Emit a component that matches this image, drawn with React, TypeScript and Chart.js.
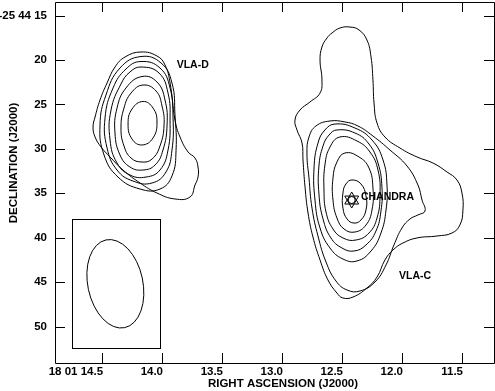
import React, { useEffect, useRef } from 'react';
import { Chart, registerables } from 'chart.js';

Chart.register(...registerables);

// ---- axes (RA seconds of 18h01m, Dec arcsec of -25d44m) ----
const X_RANGE = [11.233, 14.892];
const Y_RANGE = [13.46, 54.11];
const X_TICKS = [14.5, 14.0, 13.5, 13.0, 12.5, 12.0, 11.5];
const X_TICK_LABELS = ['18 01 14.5', '14.0', '13.5', '13.0', '12.5', '12.0', '11.5'];
const Y_TICKS = [15, 20, 25, 30, 35, 40, 45, 50];
const Y_TICK_LABELS = ['-25 44 15', '20', '25', '30', '35', '40', '45', '50'];
const X_TITLE = 'RIGHT ASCENSION (J2000)';
const Y_TITLE = 'DECLINATION (J2000)';

// ---- contours [RA s, Dec arcsec] ----
const VLA_D_1 = [[14.175,19.09],[14.042,19.54],[13.975,20.55],[13.933,22.58],[13.892,26.75],[13.85,28.66],[13.783,30.35],[13.725,31.03],[13.70,32.04],[13.70,33.17],[13.725,34.07],[13.767,35.42],[13.892,35.64],[14.042,34.97],[14.183,33.84],[14.325,32.38],[14.433,30.91],[14.508,29.79],[14.558,28.66],[14.575,27.54],[14.558,26.41],[14.517,24.50],[14.458,22.58],[14.392,20.78],[14.308,19.65]];
const VLA_D_2 = [[14.175,19.60],[14.008,20.33],[13.917,22.58],[13.892,26.18],[13.883,30.13],[13.917,33.05],[14.017,34.52],[14.183,34.52],[14.367,33.17],[14.483,30.69],[14.517,27.31],[14.467,23.93],[14.35,20.89]];
const VLA_D_3 = [[14.175,20.16],[14.017,20.89],[13.933,23.14],[13.908,26.52],[13.917,30.13],[13.967,32.60],[14.083,33.84],[14.242,33.62],[14.375,32.38],[14.458,29.90],[14.475,26.52],[14.408,23.14],[14.30,21.00]];
const VLA_D_4 = [[14.175,20.78],[14.025,21.46],[13.95,23.71],[13.933,26.75],[13.95,30.13],[14.017,32.38],[14.133,33.17],[14.267,32.94],[14.375,31.59],[14.433,29.00],[14.425,25.62],[14.342,22.69],[14.267,21.34]];
const VLA_D_5 = [[14.167,21.85],[14.042,22.47],[13.975,24.50],[13.958,27.31],[13.992,30.13],[14.058,31.81],[14.158,32.38],[14.267,32.04],[14.35,30.69],[14.392,28.21],[14.375,25.40],[14.30,23.14]];
const VLA_D_6 = [[14.158,22.81],[14.05,23.48],[14.00,25.17],[13.983,27.31],[14.017,29.67],[14.083,31.14],[14.167,31.48],[14.258,31.03],[14.317,29.67],[14.342,27.65],[14.317,25.40],[14.258,23.71]];
const VLA_D_7 = [[14.158,24.66],[14.075,25.40],[14.042,26.97],[14.075,28.77],[14.167,29.56],[14.25,28.89],[14.283,27.20],[14.25,25.51]];

const VLA_C_1 = [[12.433,16.28],[12.358,16.61],[12.292,17.74],[12.258,19.65],[12.242,22.24],[12.233,24.83],[12.208,27.09],[12.142,28.66],[12.017,29.90],[11.875,30.91],[11.742,31.59],[11.625,32.60],[11.542,33.50],[11.50,34.97],[11.492,36.88],[11.517,38.57],[11.583,39.47],[11.708,39.81],[11.875,40.03],[11.992,40.60],[12.075,41.39],[12.142,42.51],[12.208,44.43],[12.292,45.66],[12.408,46.68],[12.492,46.79],[12.542,46.23],[12.617,44.76],[12.683,42.51],[12.742,39.92],[12.783,37.22],[12.808,34.29],[12.825,31.25],[12.833,29.34],[12.875,27.87],[12.892,26.75],[12.85,25.62],[12.767,24.72],[12.683,23.71],[12.667,22.24],[12.683,19.99],[12.667,18.53],[12.625,17.51],[12.583,16.95],[12.517,16.39]];
const VLA_C_2 = [[12.60,26.86],[12.475,26.97],[12.367,27.42],[12.242,28.55],[12.10,30.13],[11.958,31.93],[11.867,34.07],[11.833,35.76],[11.808,36.99],[11.867,37.44],[11.933,37.89],[12.00,38.91],[12.067,40.82],[12.133,43.07],[12.225,44.99],[12.35,46.00],[12.458,45.89],[12.55,44.88],[12.633,42.74],[12.70,39.81],[12.75,36.66],[12.775,33.28],[12.792,30.46],[12.775,28.66],[12.717,27.42]];
const VLA_C_3 = [[12.558,27.20],[12.392,27.65],[12.25,29.00],[12.158,31.25],[12.125,34.07],[12.133,36.88],[12.175,39.47],[12.258,41.50],[12.375,42.62],[12.492,42.40],[12.60,41.16],[12.683,38.91],[12.725,35.76],[12.733,32.15],[12.70,29.34],[12.642,27.87]];
const VLA_C_4 = [[12.542,27.87],[12.392,28.21],[12.275,29.45],[12.20,31.59],[12.167,34.29],[12.175,36.99],[12.217,39.25],[12.30,40.82],[12.40,41.50],[12.50,41.16],[12.592,40.03],[12.658,37.89],[12.692,35.08],[12.692,31.93],[12.658,29.67],[12.608,28.44]];
const VLA_C_5 = [[12.517,28.66],[12.375,29.11],[12.267,30.35],[12.20,32.38],[12.183,35.19],[12.208,37.78],[12.275,39.47],[12.383,40.26],[12.492,40.03],[12.575,39.02],[12.633,37.11],[12.65,34.63],[12.642,31.81],[12.60,29.79]];
const VLA_C_6 = [[12.475,30.46],[12.358,30.91],[12.275,32.15],[12.242,34.40],[12.25,36.88],[12.30,38.57],[12.392,39.36],[12.483,39.02],[12.542,37.78],[12.575,35.76],[12.575,33.28],[12.542,31.48]];
const VLA_C_7 = [[12.417,33.50],[12.342,33.95],[12.30,35.30],[12.30,36.88],[12.342,38.01],[12.40,38.35],[12.458,37.89],[12.492,36.66],[12.492,34.97],[12.467,33.95]];

const CONTOURS = [VLA_D_1, VLA_D_2, VLA_D_3, VLA_D_4, VLA_D_5, VLA_D_6, VLA_D_7,
  VLA_C_1, VLA_C_2, VLA_C_3, VLA_C_4, VLA_C_5, VLA_C_6, VLA_C_7];

// ---- Chandra source ----
const CHANDRA_POS = [12.419, 35.76];

// ---- labels ----
const LABEL_TEXTS = ['VLA-D', 'CHANDRA', 'VLA-C'];
const LABEL_RA = [13.878, 12.342, 12.025];
const LABEL_DEC = [20.55, 35.47, 44.31];

// ---- beam inset ----
const INSET_RA = [14.753, 14.017];
const INSET_DEC = [37.93, 52.45];
const BEAM_CENTER = [14.389, 45.19];
const BEAM_MAJOR = 10.1; // arcsec (full)
const BEAM_MINOR = 6.2;  // arcsec (full)
const BEAM_PA = 12;      // deg east of north

const FONT = '"Liberation Sans", Arial, Helvetica, sans-serif';

function closedSet(pts: number[][]) {
  const n = pts.length;
  const seq = [pts[n - 1], ...pts, pts[0], pts[1]];
  return {
    type: 'scatter' as const,
    data: seq.map(([x, y]) => ({ x, y })),
    showLine: true,
    borderColor: '#000',
    borderWidth: 1,
    pointRadius: 0,
    pointHoverRadius: 0,
    tension: 0.45,
    fill: false,
    segment: {
      borderColor: (ctx: any) =>
        ctx.p0DataIndex === 0 || ctx.p1DataIndex === n + 2 ? 'rgba(0,0,0,0)' : undefined,
    },
  };
}

const overlay = {
  id: 'overlay',
  afterDatasetsDraw(chart: any) {
    const { ctx, chartArea: a, scales } = chart;
    const xs = scales.x;
    const ys = scales.y;
    ctx.save();
    ctx.strokeStyle = '#000';
    ctx.lineWidth = 1;
    // frame
    ctx.beginPath();
    ctx.moveTo(a.left + 0.5, a.top + 0.5);
    ctx.lineTo(a.right + 0.5, a.top + 0.5);
    ctx.lineTo(a.right + 0.5, a.bottom + 0.5);
    ctx.lineTo(a.left + 0.5, a.bottom + 0.5);
    ctx.closePath();
    ctx.stroke();
    // ticks (inward, all four sides)
    ctx.beginPath();
    for (const v of X_TICKS) {
      const px = Math.round(xs.getPixelForValue(v)) + 0.5;
      ctx.moveTo(px, a.bottom);
      ctx.lineTo(px, a.bottom - 10);
      ctx.moveTo(px, a.top);
      ctx.lineTo(px, a.top + 10);
    }
    for (const v of Y_TICKS) {
      const py = Math.round(ys.getPixelForValue(v)) + 0.5;
      ctx.moveTo(a.left, py);
      ctx.lineTo(a.left + 10, py);
      ctx.moveTo(a.right, py);
      ctx.lineTo(a.right - 10, py);
    }
    ctx.stroke();
    // inset box
    const bx1 = Math.round(xs.getPixelForValue(INSET_RA[0])) + 0.5;
    const bx2 = Math.round(xs.getPixelForValue(INSET_RA[1])) + 0.5;
    const by1 = Math.round(ys.getPixelForValue(INSET_DEC[0])) + 0.5;
    const by2 = Math.round(ys.getPixelForValue(INSET_DEC[1])) + 0.5;
    ctx.strokeRect(bx1, by1, bx2 - bx1, by2 - by1);
    // beam ellipse
    const cx = xs.getPixelForValue(BEAM_CENTER[0]);
    const cy = ys.getPixelForValue(BEAM_CENTER[1]);
    const pxPerArcsec = Math.abs(ys.getPixelForValue(BEAM_CENTER[1] + 1) - cy);
    ctx.beginPath();
    ctx.ellipse(cx, cy, (BEAM_MINOR / 2) * pxPerArcsec, (BEAM_MAJOR / 2) * pxPerArcsec,
      (-BEAM_PA * Math.PI) / 180, 0, Math.PI * 2);
    ctx.stroke();
    // annotations
    ctx.fillStyle = '#000';
    ctx.font = `bold 10.5px ${FONT}`;
    ctx.textAlign = 'left';
    ctx.textBaseline = 'middle';
    LABEL_TEXTS.forEach((t, i) => {
      ctx.fillText(t, xs.getPixelForValue(LABEL_RA[i]), ys.getPixelForValue(LABEL_DEC[i]));
    });
    // axis titles
    ctx.font = `bold 11.5px ${FONT}`;
    ctx.textAlign = 'center';
    ctx.fillText(X_TITLE, (a.left + a.right) / 2 + 8.5, 383.5);
    ctx.translate(13.5, 163);
    ctx.rotate(-Math.PI / 2);
    ctx.fillText(Y_TITLE, 0, 0);
    ctx.restore();
  },
};

function zeroPad(s: any) {
  s.paddingTop = 0;
  s.paddingBottom = 0;
  s.paddingLeft = 0;
  s.paddingRight = 0;
}

export default function App() {
  const ref = useRef<HTMLCanvasElement>(null);
  useEffect(() => {
    const datasets: any[] = CONTOURS.map(closedSet);
    const star = { x: CHANDRA_POS[0], y: CHANDRA_POS[1] };
    datasets.push({
      type: 'scatter', data: [star], pointStyle: 'triangle', pointRadius: 8, rotation: 0,
      borderColor: '#000', borderWidth: 1, backgroundColor: 'rgba(0,0,0,0)', showLine: false,
    });
    datasets.push({
      type: 'scatter', data: [star], pointStyle: 'triangle', pointRadius: 8, rotation: 180,
      borderColor: '#000', borderWidth: 1, backgroundColor: 'rgba(0,0,0,0)', showLine: false,
    });
    datasets.push({
      type: 'scatter', data: [star], pointStyle: 'circle', pointRadius: 3.5,
      borderColor: '#000', borderWidth: 1, backgroundColor: 'rgba(0,0,0,0)', showLine: false,
    });
    const tickFont = { family: FONT, size: 11.5, weight: 'bold' as const };
    const chart = new Chart(ref.current!, {
      type: 'scatter',
      data: { datasets },
      options: {
        responsive: false,
        maintainAspectRatio: false,
        devicePixelRatio: 1,
        animation: false,
        events: [],
        layout: { autoPadding: false, padding: { top: 2, right: 1, left: 0, bottom: 0 } },
        plugins: { legend: { display: false }, tooltip: { enabled: false } },
        scales: {
          x: {
            type: 'linear',
            reverse: true,
            min: X_RANGE[0],
            max: X_RANGE[1],
            grid: { display: false, drawTicks: false },
            border: { display: false },
            ticks: {
              font: tickFont,
              color: '#000',
              padding: 2,
              align: 'end',
              labelOffset: 1,
              maxRotation: 0,
              minRotation: 0,
              autoSkip: false,
              callback: (v: any) => {
                const i = X_TICKS.findIndex((t) => Math.abs(t - Number(v)) < 1e-6);
                return i >= 0 ? X_TICK_LABELS[i] : '';
              },
            },
            afterBuildTicks: (s: any) => { s.ticks = X_TICKS.map((v) => ({ value: v })); },
            afterFit: (s: any) => { s.height = 28; zeroPad(s); },
          },
          y: {
            type: 'linear',
            reverse: true,
            min: Y_RANGE[0],
            max: Y_RANGE[1],
            grid: { display: false, drawTicks: false },
            border: { display: false },
            ticks: {
              font: tickFont,
              color: '#000',
              padding: 8,
              autoSkip: false,
              callback: (v: any) => {
                const i = Y_TICKS.findIndex((t) => Math.abs(t - Number(v)) < 1e-6);
                return i >= 0 ? Y_TICK_LABELS[i] : '';
              },
            },
            afterBuildTicks: (s: any) => { s.ticks = Y_TICKS.map((v) => ({ value: v })); },
            afterFit: (s: any) => { s.width = 55; zeroPad(s); },
          },
        },
      } as any,
      plugins: [overlay],
    });
    return () => chart.destroy();
  }, []);
  return (
    <div style={{ position: 'absolute', left: 0, top: 0, width: 495, height: 391, background: '#fff' }}>
      <canvas ref={ref} width={495} height={391} style={{ display: 'block', width: 495, height: 391 }} />
    </div>
  );
}
